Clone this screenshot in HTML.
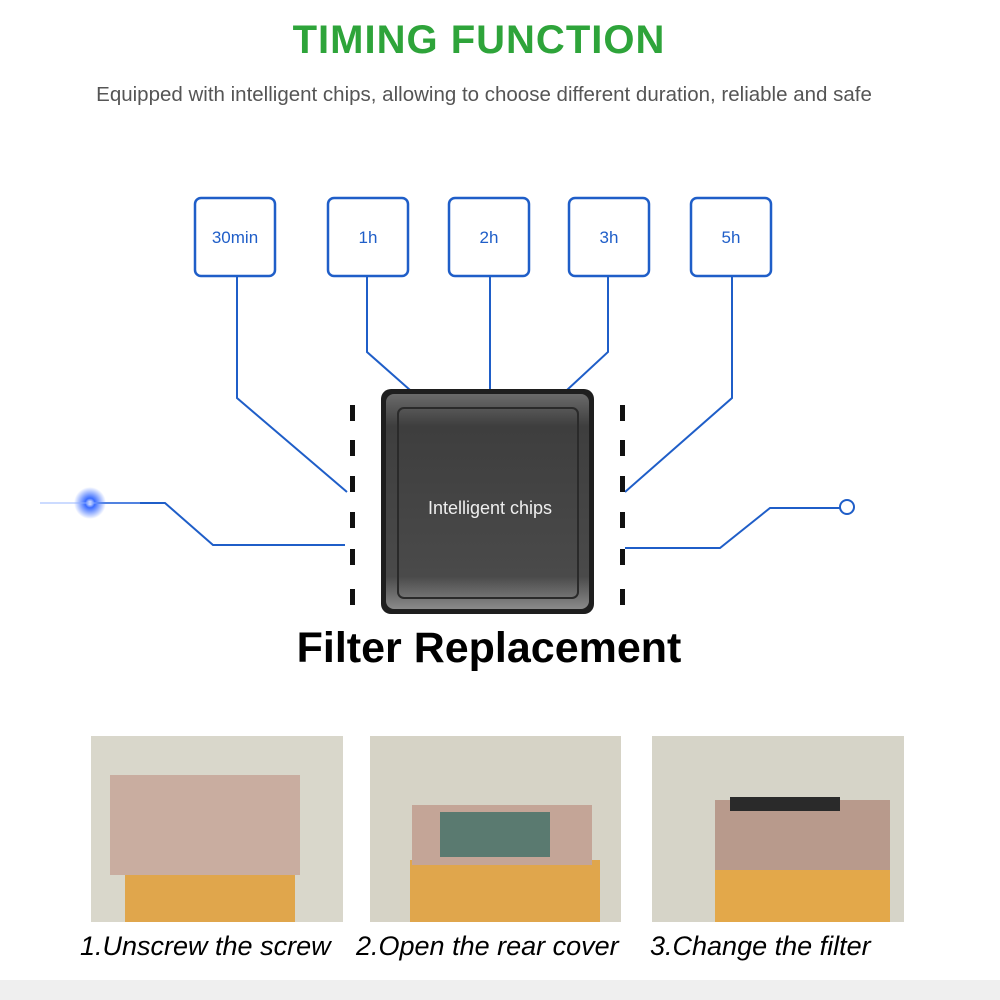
<!DOCTYPE html>
<html><head><meta charset="utf-8"><style>
body{margin:0;width:1000px;height:1000px;background:#fff;overflow:hidden;position:relative;font-family:"Liberation Sans",sans-serif}
.t{position:absolute;left:0;width:1000px;text-align:center}
</style></head><body>
<div class="t" style="top:18px;font-size:40px;font-weight:bold;color:#2ea43a;letter-spacing:1px;left:-21px">TIMING FUNCTION</div>
<div class="t" style="top:83px;font-size:20.5px;color:#555;left:-16px;white-space:nowrap">Equipped with intelligent chips, allowing to choose different duration, reliable and safe</div>
<svg width="1000" height="1000" style="position:absolute;left:0;top:0">
<defs>
<linearGradient id="cg" x1="0" y1="0" x2="0" y2="1"><stop offset="0" stop-color="#6a6a6a"/><stop offset="0.15" stop-color="#3e3e3e"/><stop offset="0.85" stop-color="#4a4a4a"/><stop offset="1" stop-color="#8a8a8a"/></linearGradient>
<radialGradient id="gl"><stop offset="0" stop-color="#fff"/><stop offset="0.3" stop-color="#3a6cff"/><stop offset="1" stop-color="#3a6cff" stop-opacity="0"/></radialGradient>
</defs>
<g fill="#fff" stroke="#1f5ec8" stroke-width="2.5">
<rect x="195" y="198" width="80" height="78" rx="6"/>
<rect x="328" y="198" width="80" height="78" rx="6"/>
<rect x="449" y="198" width="80" height="78" rx="6"/>
<rect x="569" y="198" width="80" height="78" rx="6"/>
<rect x="691" y="198" width="80" height="78" rx="6"/>
</g>
<g fill="#1f5ec8" font-size="17" text-anchor="middle">
<text x="235" y="243">30min</text><text x="368" y="243">1h</text><text x="489" y="243">2h</text><text x="609" y="243">3h</text><text x="731" y="243">5h</text>
</g>
<g fill="none" stroke="#1f5ec8" stroke-width="2">
<polyline points="237,276 237,398 347,492"/>
<polyline points="367,276 367,352 410,390"/>
<polyline points="490,276 490,390"/>
<polyline points="608,276 608,352 567,390"/>
<polyline points="732,276 732,398 625,492"/>
<polyline points="90,503 165,503 213,545 345,545"/>
<polyline points="625,548 720,548 770,508 840,508"/>
<circle cx="847" cy="507" r="7" fill="#fff"/>
</g>
<circle cx="90" cy="503" r="16" fill="url(#gl)"/>
<line x1="40" y1="503" x2="140" y2="503" stroke="#8fb0ff" stroke-width="1.5" opacity="0.6"/>
<g fill="#111">
<rect x="350" y="405" width="5" height="16"/><rect x="350" y="440" width="5" height="16"/><rect x="350" y="476" width="5" height="16"/><rect x="350" y="512" width="5" height="16"/><rect x="350" y="549" width="5" height="16"/><rect x="350" y="589" width="5" height="16"/>
<rect x="620" y="405" width="5" height="16"/><rect x="620" y="440" width="5" height="16"/><rect x="620" y="476" width="5" height="16"/><rect x="620" y="512" width="5" height="16"/><rect x="620" y="549" width="5" height="16"/><rect x="620" y="589" width="5" height="16"/>
</g>
<rect x="381" y="389" width="213" height="225" rx="10" fill="#1e1e1e"/>
<rect x="386" y="394" width="203" height="215" rx="8" fill="url(#cg)"/>
<rect x="398" y="408" width="180" height="190" rx="6" fill="none" stroke="#2a2a2a" stroke-width="2"/>
<text x="490" y="514" fill="#eee" font-size="18" text-anchor="middle">Intelligent chips</text>
<g>
<rect x="91" y="736" width="252" height="186" fill="#d9d7cb"/>
<rect x="125" y="870" width="170" height="52" fill="#e0a64c"/>
<rect x="110" y="775" width="190" height="100" fill="#c9ada0"/>
<rect x="370" y="736" width="251" height="186" fill="#d6d3c6"/>
<rect x="410" y="860" width="190" height="62" fill="#e0a64c"/>
<rect x="412" y="805" width="180" height="60" fill="#c4a597"/>
<rect x="440" y="812" width="110" height="45" fill="#5a7a70"/>
<rect x="652" y="736" width="252" height="186" fill="#d6d4c8"/>
<rect x="715" y="865" width="175" height="57" fill="#e3a84a"/>
<rect x="715" y="800" width="175" height="70" fill="#b89a8c"/>
<rect x="730" y="797" width="110" height="14" fill="#2a2a2a"/>
</g>
</svg>
<div class="t" style="top:624px;font-size:43px;font-weight:bold;color:#000;left:-11px">Filter Replacement</div>
<div style="position:absolute;top:931px;left:80px;font-size:27px;font-style:italic;color:#000;white-space:nowrap">1.Unscrew the screw</div>
<div style="position:absolute;top:931px;left:356px;font-size:27px;font-style:italic;color:#000;white-space:nowrap">2.Open the rear cover</div>
<div style="position:absolute;top:931px;left:650px;font-size:27px;font-style:italic;color:#000;white-space:nowrap">3.Change the filter</div>
<div style="position:absolute;top:980px;left:0;width:1000px;height:20px;background:#efefef"></div>
</body></html>
